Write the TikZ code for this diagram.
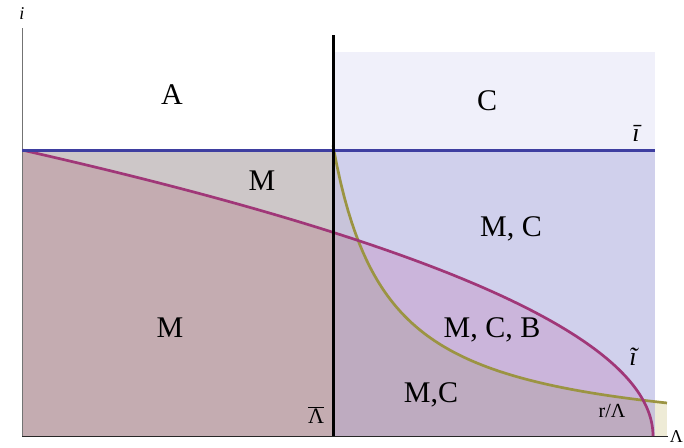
\documentclass[tikz,border=0pt]{standalone}
\usepackage{fontspec}
\setmainfont{Liberation Serif}
\definecolor{ctop}{RGB}{240,240,250}
\definecolor{cmc}{RGB}{208,208,236}
\definecolor{cgray}{RGB}{205,199,200}
\definecolor{cmauve}{RGB}{196,172,177}
\definecolor{cpurp}{RGB}{203,181,219}
\definecolor{colv}{RGB}{200,196,218}
\definecolor{cmco}{RGB}{190,171,192}
\definecolor{cbeige}{RGB}{238,235,214}
\definecolor{lblue}{RGB}{62,62,160}
\definecolor{lmag}{RGB}{160,55,120}
\definecolor{lolive}{RGB}{155,148,66}
\tikzset{
  biglbl/.style={inner sep=0pt, font=\fontsize{30}{34}\selectfont},
  midlbl/.style={inner sep=0pt, font=\fontsize{22}{26}\selectfont},
  curve/.style={line width=2.7pt}
}
\begin{document}
\begin{tikzpicture}[x=1pt,y=-1pt]
\useasboundingbox (0,0) rectangle (684,447);
% background regions
\fill[ctop] (333,52) rectangle (655,150);
\fill[cmc] (333,150) rectangle (655,436);
\fill[cgray] (22,150) rectangle (333,436);
\begin{scope}
  \clip (22,150) rectangle (333,436);
  \fill[cmauve] (22,436) -- plot[domain=0:1,samples=90,variable=\t] ({22+631*(1-\t*\t)},{436-286*\t}) -- cycle;
\end{scope}
\begin{scope}
  \clip (333,150) rectangle (655,436);
  \fill[cpurp] (22,436) -- plot[domain=0:1,samples=90,variable=\t] ({22+631*(1-\t*\t)},{436-286*\t}) -- cycle;
\end{scope}
\begin{scope}
  \clip (333,436) -- plot[domain=333:667,samples=90,variable=\x] (\x,{436-(161.53/(\x-279)*100-8.6)}) -- (667,436) -- cycle;
  \fill[colv] (333,140) rectangle (655,436);
  \fill[cbeige] (655,140) rectangle (667,436);
  \clip (22,436) -- plot[domain=0:1,samples=90,variable=\t] ({22+631*(1-\t*\t)},{436-286*\t}) -- cycle;
  \fill[cmco] (333,140) rectangle (667,436);
\end{scope}
% axes
\draw[black!55, line width=1pt] (22,28) -- (22,436);
\draw[black!85, line width=1pt] (22,436) -- (668,436);
% curves
\draw[lolive, curve] plot[domain=333:667,samples=90,variable=\x] (\x,{436-(161.53/(\x-279)*100-8.6)});
\draw[lmag, curve] plot[domain=0:1,samples=90,variable=\t] ({22+631*(1-\t*\t)},{436-286*\t});
\draw[lblue, line width=3pt] (22,150) -- (655,150);
\draw[black, line width=3pt] (333,35) -- (333,436);
% labels
\node[inner sep=0pt, font=\fontsize{18}{20}\selectfont\itshape] (li) at (22,14) {i};
\node[biglbl] (lA) at (172,95) {A};
\node[biglbl] (lC) at (487,101) {C};
\node[inner sep=0pt, font=\fontsize{26}{30}\selectfont\itshape] (libar) at (636,133) {ī};
\node[biglbl] (lM1) at (262,181) {M};
\node[biglbl] (lMC) at (511,229) {M, C};
\node[biglbl] (lM2) at (170,328) {M};
\node[biglbl] (lMCB) at (492,330) {M, C, B};
\node[inner sep=0pt, font=\fontsize{26}{30}\selectfont\itshape] (litil) at (633,357) {ĩ};
\node[biglbl] (lMC2) at (431,395) {M,C};
\node[midlbl] (lLbar) at (316,415) {$\overline{\hbox{Λ}}$};
\node[midlbl, font=\fontsize{20}{24}\selectfont] (lrL) at (612,411) {r/Λ};
\node[inner sep=0pt, anchor=south east, font=\fontsize{18}{22}\selectfont] (lL) at (683,443) {Λ};
\end{tikzpicture}
\end{document}
